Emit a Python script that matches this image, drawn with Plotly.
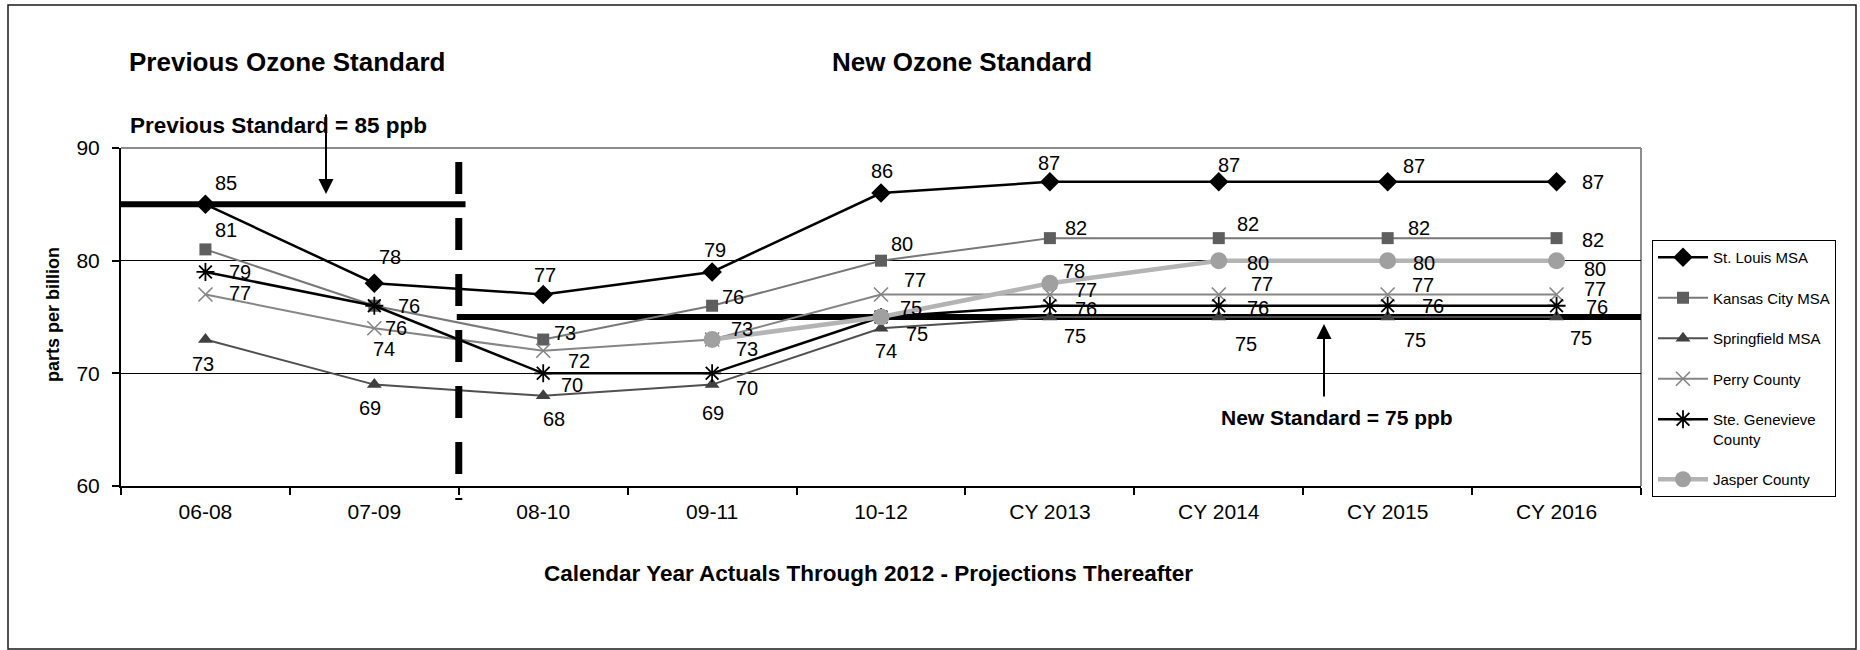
import plotly.graph_objects as go

# ---- data -------------------------------------------------------------
periods = ["06-08", "07-09", "08-10", "09-11", "10-12",
           "CY 2013", "CY 2014", "CY 2015", "CY 2016"]

st_louis = [85, 78, 77, 79, 86, 87, 87, 87, 87]
kansas_city = [81, 76, 73, 76, 80, 82, 82, 82, 82]
springfield = [73, 69, 68, 69, 74, 75, 75, 75, 75]
perry = [77, 74, 72, 73, 77, 77, 77, 77, 77]
ste_genevieve = [79, 76, 70, 70, 75, 76, 76, 76, 76]
jasper = [None, None, None, 73, 75, 78, 80, 80, 80]

previous_standard = 85
new_standard = 75

# ---- page geometry ----------------------------------------------------
W, H = 1860, 650
ML, MR, MT, MB = 121, 219, 148, 164
PW, PH = W - ML - MR, H - MT - MB
FONT = "Liberation Sans, Arial, Helvetica, sans-serif"


def px(x, y):
    """Page pixel position -> paper fractions of the plot area."""
    return (x - ML) / PW, (H - MB - y) / PH


# ---- series styles and label offsets (dx, dy in px, dy down) ---------
series = [
    dict(name="St. Louis MSA", y=st_louis, color="#000000", width=2.5,
         marker=dict(symbol="diamond", size=15, color="#000000"),
         offs=[(21, -21), (16, -26), (2, -19), (3, -22), (1, -22),
               (-1, -19), (10, -17), (26, -16), (36, 0)]),
    dict(name="Kansas City MSA", y=kansas_city, color="#787878", width=2,
         marker=dict(symbol="square", size=12, color="#5e5e5e"),
         offs=[(21, -19), (35, 0), (22, -7), (21, -9), (21, -17),
               (26, -10), (29, -14), (31, -10), (36, 2)]),
    dict(name="Springfield MSA", y=springfield, color="#505050", width=2,
         marker=dict(symbol="triangle-up", size=13, color="#404040"),
         offs=[(-2, 24), (-4, 23), (11, 23), (1, 28), (5, 23),
               (25, 19), (27, 27), (27, 23), (24, 21)]),
    dict(name="Perry County", y=perry, color="#868686", width=2,
         marker=dict(symbol="x-thin-open", size=14,
                     line=dict(color="#222222", width=1.6)),
         offs=[(35, -1), (10, 21), (36, 10), (30, -11), (34, -14),
               (36, -4), (43, -10), (35, -9), (38, -5)]),
    dict(name="Ste. Genevieve<br>County", y=ste_genevieve, color="#000000",
         width=2.5,
         marker=dict(symbol="asterisk-open", size=15,
                     line=dict(color="#000000", width=1.8)),
         offs=[(35, 0), (22, 22), (29, 12), (35, 15), (36, 17),
               (36, 3), (39, 2), (45, 0), (40, 1)]),
    dict(name="Jasper County", y=jasper, color="#b4b4b4", width=4.5,
         marker=dict(symbol="circle", size=17, color="#a0a0a0"),
         offs=[None, None, None, (35, 9), (30, -9), (24, -12),
               (39, 2), (36, 2), (38, 8)]),
]

fig = go.Figure()
annotations = []

for k, s in enumerate(series):
    fig.add_trace(go.Scatter(
        x=periods, y=s["y"], name=s["name"], mode="lines+markers",
        line=dict(color=s["color"], width=s["width"]),
        marker=s["marker"], legendgroup=f"g{k}", connectgaps=False,
        cliponaxis=False,
    ))
    for cat, val, off in zip(periods, s["y"], s["offs"]):
        if val is None:
            continue
        annotations.append(dict(
            x=cat, y=val, xref="x", yref="y", text=str(val),
            showarrow=False, xshift=off[0], yshift=-off[1],
            font=dict(family=FONT, size=20, color="#000000"),
        ))

# ---- standard lines and period divider --------------------------------
divider = 1.5
shapes = [
    dict(type="line", xref="paper", yref="paper", x0=0, x1=1, y0=1, y1=1,
         line=dict(color="#8c8c8c", width=2), layer="between"),
    dict(type="line", xref="paper", yref="paper", x0=1, x1=1, y0=0, y1=1,
         line=dict(color="#8c8c8c", width=2), layer="between"),
    dict(type="line", xref="x", yref="y", x0=-0.5, x1=divider + 0.04,
         y0=previous_standard, y1=previous_standard,
         line=dict(color="#000000", width=6), layer="between"),
    dict(type="line", xref="x", yref="y", x0=divider - 0.012, x1=8.5,
         y0=new_standard, y1=new_standard,
         line=dict(color="#000000", width=6), layer="between"),
    dict(type="line", xref="x", yref="paper", x0=divider, x1=divider,
         y0=px(0, 162)[1], y1=px(0, 500)[1],
         line=dict(color="#000000", width=7, dash="32px,24px"),
         layer="above"),
    # outer frame
    dict(type="rect", xref="paper", yref="paper",
         x0=px(8, 0)[0], x1=px(1856, 0)[0], y0=px(0, 649)[1], y1=px(0, 5)[1],
         line=dict(color="#1a1a1a", width=1.5), layer="below"),
]


def text_at(x, y, text, size, anchor="left", angle=0):
    xp, yp = px(x, y)
    annotations.append(dict(
        x=xp, y=yp, xref="paper", yref="paper", text=text, showarrow=False,
        xanchor=anchor, yanchor="middle", textangle=angle,
        font=dict(family=FONT, size=size, color="#000000"),
    ))


def arrow(x, y_tail, y_tip):
    xp, yp = px(x, y_tip)
    annotations.append(dict(
        x=xp, y=yp, xref="paper", yref="paper", text="", showarrow=True,
        ax=0, ay=y_tail - y_tip, arrowhead=2, arrowsize=1.5, arrowwidth=2,
        arrowcolor="#000000", standoff=0, startstandoff=0,
    ))


text_at(127, 62, "<b>Previous Ozone Standard</b>", 26)
text_at(830, 62, "<b>New Ozone Standard</b>", 26)
text_at(128, 125, "<b>Previous Standard = 85 ppb</b>", 22.5)
text_at(1337, 417, "<b>New Standard = 75 ppb</b>", 21, anchor="center")
text_at(868, 573,
        "<b>Calendar Year Actuals Through 2012 - Projections Thereafter</b>",
        22.5, anchor="center")
text_at(53, 315, "<b>parts per billion</b>", 18, anchor="center", angle=-90)
arrow(326, 113, 194)
arrow(1324, 398, 324)

fig.update_layout(
    width=W, height=H,
    margin=dict(l=ML, r=MR, t=MT, b=MB, autoexpand=False),
    paper_bgcolor="#ffffff", plot_bgcolor="#ffffff",
    font=dict(family=FONT, color="#000000"),
    showlegend=True,
    legend=dict(
        x=px(1652, 0)[0], y=px(0, 240)[1], xanchor="left", yanchor="top",
        bordercolor="#000000", borderwidth=1, bgcolor="#ffffff",
        font=dict(family=FONT, size=15, color="#000000"),
        itemwidth=50, tracegroupgap=18, valign="top",
        itemclick=False, itemdoubleclick=False,
    ),
    shapes=shapes,
    annotations=annotations,
    xaxis=dict(
        type="category", range=[-0.5, 8.5], showgrid=False, zeroline=False,
        showline=True, linecolor="#000000", linewidth=2,
        ticks="outside", ticklen=7, tickwidth=1.5, tickcolor="#000000",
        tickson="boundaries", ticklabelstandoff=6,
        tickfont=dict(family=FONT, size=21, color="#000000"),
    ),
    yaxis=dict(
        range=[60, 90], tickvals=[60, 70, 80, 90], showgrid=True,
        gridcolor="#000000", gridwidth=1, zeroline=False,
        showline=True, linecolor="#000000", linewidth=2,
        ticks="outside", ticklen=7, tickwidth=1.5, tickcolor="#000000",
        ticklabelstandoff=8,
        tickfont=dict(family=FONT, size=21, color="#000000"),
    ),
)

fig.write_html("out.html")
